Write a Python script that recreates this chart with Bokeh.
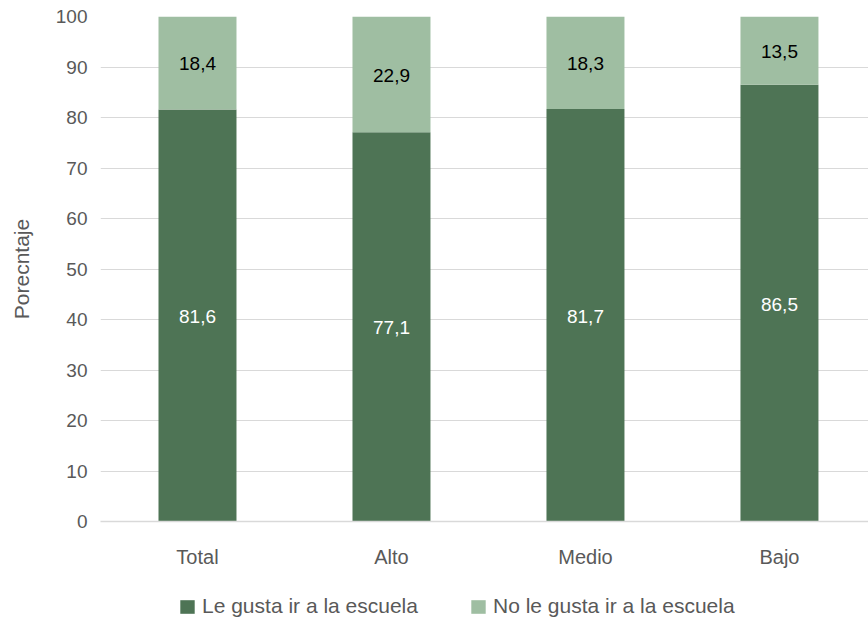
from bokeh.plotting import figure
from bokeh.models import Range1d, FixedTicker, Legend, LegendItem, ColumnDataSource
from bokeh.layouts import column
from bokeh.core.properties import value
from bokeh.embed import file_html
from bokeh.resources import INLINE

categories = ["Total", "Alto", "Medio", "Bajo"]
le_gusta = [81.6, 77.1, 81.7, 86.5]
no_le_gusta = [18.4, 22.9, 18.3, 13.5]
series_names = ["Le gusta ir a la escuela", "No le gusta ir a la escuela"]
y_ticks = [0, 10, 20, 30, 40, 50, 60, 70, 80, 90, 100]

DARK = "#4e7455"
LIGHT = "#9fbea2"
GRID = "#d9d9d9"
TXT = "#595959"
FONT = "Liberation Sans"

xs = [i + 0.5 for i in range(len(categories))]
fmt = lambda v: f"{v:.1f}".replace(".", ",")

src = ColumnDataSource(dict(
    x=xs,
    cat=categories,
    a_top=le_gusta,
    b_top=[a + b for a, b in zip(le_gusta, no_le_gusta)],
    a_mid=[a / 2 for a in le_gusta],
    b_mid=[a + b / 2 for a, b in zip(le_gusta, no_le_gusta)],
    a_lbl=[fmt(v) for v in le_gusta],
    b_lbl=[fmt(v) for v in no_le_gusta],
))

p = figure(width=868, height=575, output_backend="svg", toolbar_location=None,
           x_range=Range1d(0, 3.959), y_range=Range1d(0, 100),
           min_border_left=100, min_border_right=0, min_border_top=16, min_border_bottom=54)
p.outline_line_color = None
p.background_fill_color = "white"
p.border_fill_color = "white"

p.vbar(x="x", top="a_top", bottom=0, width=0.402, source=src, fill_color=DARK, line_color=None)
p.vbar(x="x", top="b_top", bottom="a_top", width=0.402, source=src, fill_color=LIGHT, line_color=None)

p.text(x="x", y="a_mid", text="a_lbl", source=src, text_align="center", text_baseline="middle",
       y_offset=1, text_color="white", text_font=value(FONT), text_font_size="19px")
p.text(x="x", y="b_mid", text="b_lbl", source=src, text_align="center", text_baseline="middle",
       y_offset=1, text_color="black", text_font=value(FONT), text_font_size="19px")

# axes
p.xaxis.ticker = FixedTicker(ticks=xs)
p.xaxis.major_label_overrides = {x: c for x, c in zip(xs, categories)}
p.xaxis.axis_line_color = GRID
p.xaxis.axis_line_width = 1.5
p.xaxis.major_tick_line_color = None
p.xaxis.minor_tick_line_color = None
p.xaxis.major_tick_out = 0
p.xaxis.major_tick_in = 0
p.xaxis.major_label_standoff = 24
p.xaxis.major_label_text_font = FONT
p.xaxis.major_label_text_font_size = "20px"
p.xaxis.major_label_text_color = TXT

p.yaxis.ticker = FixedTicker(ticks=y_ticks)
p.yaxis.axis_line_color = None
p.yaxis.major_tick_line_color = None
p.yaxis.minor_tick_line_color = None
p.yaxis.major_tick_out = 0
p.yaxis.major_tick_in = 0
p.yaxis.major_label_standoff = 13
p.yaxis.major_label_text_font = FONT
p.yaxis.major_label_text_font_size = "19px"
p.yaxis.major_label_text_color = TXT
p.yaxis.axis_label = "Porecntaje"
p.yaxis.axis_label_text_font = FONT
p.yaxis.axis_label_text_font_size = "21px"
p.yaxis.axis_label_text_font_style = "normal"
p.yaxis.axis_label_text_color = TXT
p.yaxis.axis_label_standoff = 20

p.xgrid.grid_line_color = None
p.ygrid.grid_line_color = GRID
p.ygrid.grid_line_width = 1
p.ygrid.ticker = FixedTicker(ticks=y_ticks)

# legend strip below the chart (its own renderers sit outside its visible ranges)
leg = figure(width=868, height=46, output_backend="svg", toolbar_location=None,
             x_range=Range1d(-101, -100), y_range=Range1d(200, 201),
             x_axis_type=None, y_axis_type=None, min_border=0)
leg.outline_line_color = None
leg.xgrid.visible = False
leg.ygrid.visible = False
g1 = leg.vbar(x="x", top="a_top", bottom=0, width=0.402, source=src, fill_color=DARK, line_color=None)
g2 = leg.vbar(x="x", top="b_top", bottom="a_top", width=0.402, source=src, fill_color=LIGHT, line_color=None)

legend = Legend(items=[LegendItem(label=series_names[0], renderers=[g1]),
                       LegendItem(label=series_names[1], renderers=[g2])],
                orientation="horizontal", location=(78, 3),
                glyph_width=18, glyph_height=17, label_standoff=6, spacing=51,
                padding=0, margin=0, border_line_color=None, background_fill_alpha=0,
                label_text_font=FONT, label_text_font_size="21px", label_text_color=TXT)
leg.add_layout(legend, "center")

open("out.html", "w").write(file_html(column(p, leg), INLINE))
